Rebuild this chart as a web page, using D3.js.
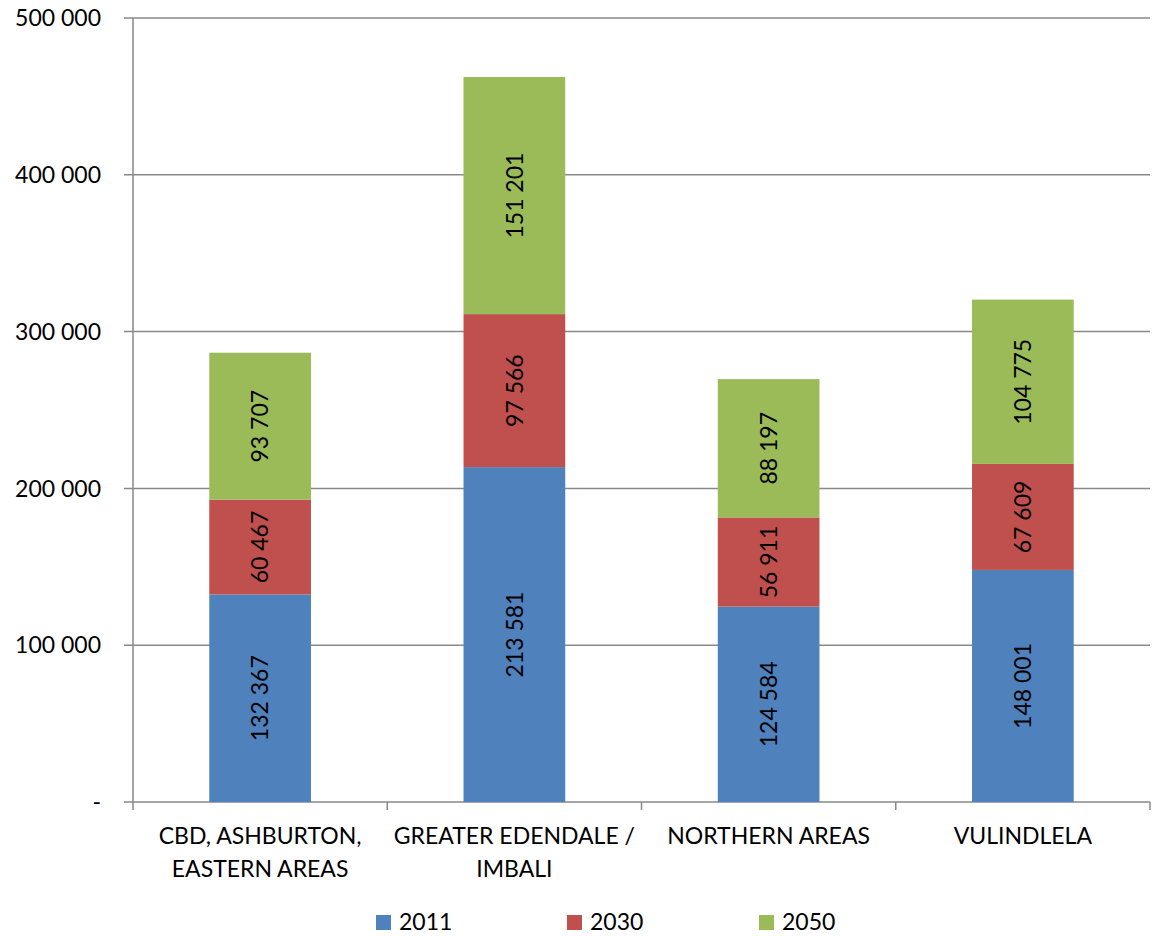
<!DOCTYPE html>
<html>
<head>
<meta charset="utf-8">
<script src="https://cdn.jsdelivr.net/npm/d3@7"></script>
<style>
  html, body { margin: 0; padding: 0; background: #fff; }
  svg text { font-family: Lato, "Open Sans", sans-serif; fill: #000; }
</style>
</head>
<body>
<svg id="chart" width="1153" height="936"></svg>
<script>
// Population per planning area, by year
const categories = [
  ["CBD, ASHBURTON,", "EASTERN AREAS"],
  ["GREATER EDENDALE /", "IMBALI"],
  ["NORTHERN AREAS"],
  ["VULINDLELA"]
];
const seriesNames = ["2011", "2030", "2050"];
const values2011 = [132367, 213581, 124584, 148001];
const values2030 = [60467, 97566, 56911, 67609];
const values2050 = [93707, 151201, 88197, 104775];
const yTicks = [0, 100000, 200000, 300000, 400000, 500000];
const colors = ["#4F81BD", "#C0504D", "#9BBB59"];

const svg = d3.select("#chart");
const margin = { left: 133, right: 3, top: 18, bottom: 134 };
const W = 1153, H = 936;
const x0 = margin.left, x1 = W - margin.right;
const y0 = H - margin.bottom, y1 = margin.top;

const fmt = v => v === 0 ? "-" : d3.format(",")(v).replace(/,/g, " ");

const rows = categories.map((c, i) => ({
  key: i, label: c,
  "2011": values2011[i], "2030": values2030[i], "2050": values2050[i]
}));

const x = d3.scaleBand().domain(rows.map(r => r.key)).range([x0, x1])
  .paddingInner(0.6).paddingOuter(0.3);
const y = d3.scaleLinear().domain([0, 500000]).range([y0, y1]);

const stacked = d3.stack().keys(seriesNames)(rows);

// gridlines with outward ticks
const grid = svg.append("g");
grid.selectAll("line").data(yTicks).join("line")
  .attr("x1", x0 - 9).attr("x2", x1)
  .attr("y1", d => y(d)).attr("y2", d => y(d))
  .attr("stroke", "#898989").attr("stroke-width", 1.5);

// y tick labels
svg.append("g").selectAll("text").data(yTicks).join("text")
  .attr("x", 101).attr("y", d => y(d))
  .attr("dy", "0.36em")
  .attr("text-anchor", "end")
  .style("font-size", "23px")
  .text(fmt);

// bars
const layers = svg.append("g").selectAll("g").data(stacked).join("g")
  .attr("fill", (d, i) => colors[i]);
layers.selectAll("rect").data(d => d).join("rect")
  .attr("x", d => x(d.data.key))
  .attr("width", x.bandwidth())
  .attr("y", d => y(d[1]))
  .attr("height", d => y(d[0]) - y(d[1]));

// value labels, rotated inside each segment
layers.each(function(layer) {
  d3.select(this).selectAll("text").data(layer).join("text")
    .attr("transform", d => {
      const cx = x(d.data.key) + x.bandwidth() / 2;
      const cy = (y(d[0]) + y(d[1])) / 2;
      return `translate(${cx},${cy}) rotate(-90)`;
    })
    .attr("text-anchor", "middle")
    .attr("dy", "0.36em")
    .style("font-size", "23px")
    .text(d => fmt(d.data[layer.key]));
});

// axes lines
svg.append("line").attr("x1", x0).attr("x2", x0).attr("y1", y1).attr("y2", y0 + 8)
  .attr("stroke", "#898989").attr("stroke-width", 1.5);
const boundaries = d3.range(5).map(i => x0 + i * (x1 - x0) / 4);
svg.append("g").selectAll("line").data(boundaries.slice(1)).join("line")
  .attr("x1", d => d).attr("x2", d => d).attr("y1", y0).attr("y2", y0 + 8)
  .attr("stroke", "#898989").attr("stroke-width", 1.5);

// category labels
const cat = svg.append("g").selectAll("text").data(rows).join("text")
  .attr("text-anchor", "middle")
  .attr("x", d => x(d.key) + x.bandwidth() / 2)
  .attr("y", 844)
  .style("font-size", "23px");
cat.selectAll("tspan").data(d => d.label.map(t => ({ t, x: x(d.key) + x.bandwidth() / 2 }))).join("tspan")
  .attr("x", d => d.x)
  .attr("dy", (d, i) => i === 0 ? 0 : 33)
  .text(d => d.t);

// legend
const legendX = [376, 567, 759];
const lg = svg.append("g").selectAll("g").data(seriesNames).join("g")
  .attr("transform", (d, i) => `translate(${legendX[i]},915)`);
lg.append("rect").attr("width", 15).attr("height", 15).attr("fill", (d, i) => colors[i]);
lg.append("text").attr("x", 23).attr("y", 15).style("font-size", "23px").text(d => d);
</script>
</body>
</html>
